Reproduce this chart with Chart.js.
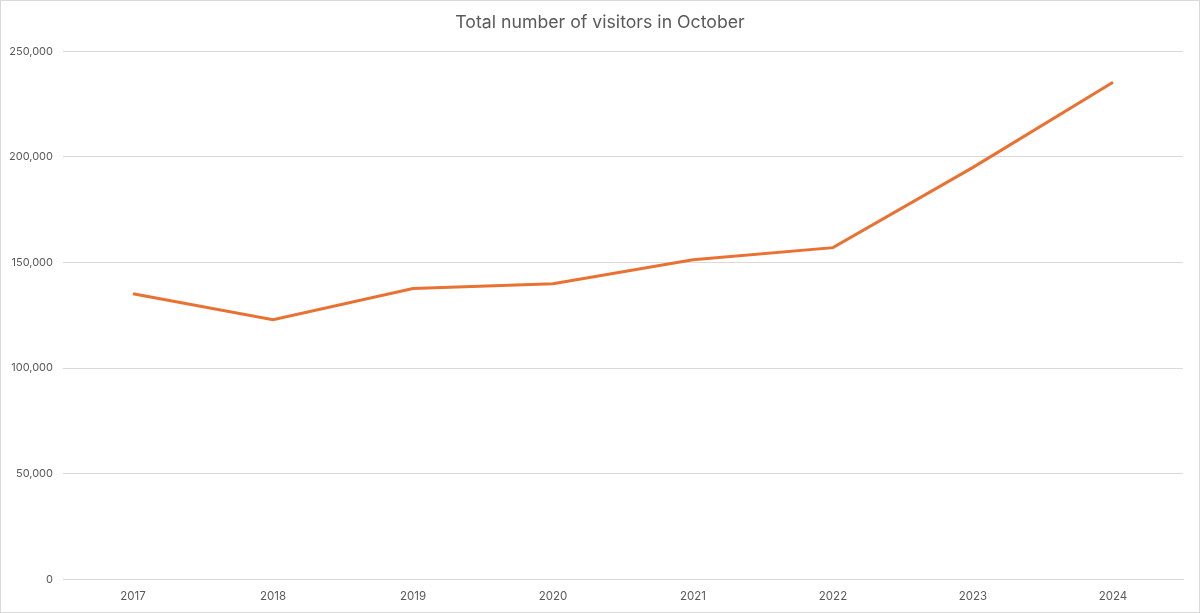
<!DOCTYPE html>
<html>
<head>
<meta charset="utf-8">
<script src="https://cdn.jsdelivr.net/npm/chart.js@4"></script>
<style>
html,body{margin:0;padding:0;background:#fff;}
#wrap{position:relative;width:1200px;height:613px;}
#frame{position:absolute;left:0;top:0;width:1198px;height:611px;border:1px solid #d9d9d9;pointer-events:none;}
canvas{display:block;}
</style>
</head>
<body>
<div id="wrap"><canvas id="c" width="1200" height="613"></canvas><div id="frame"></div></div>
<script>
const chartTitle = "Total number of visitors in October";
const years = ["2017","2018","2019","2020","2021","2022","2023","2024"];
const visitors = [135200, 122900, 137600, 139900, 151300, 157000, 195000, 235300];
const yTicks = [0, 50000, 100000, 150000, 200000, 250000];

const fontFamily = "Inter, 'Open Sans', sans-serif";
new Chart(document.getElementById('c'), {
  type: 'line',
  data: {
    labels: years,
    datasets: [{
      label: 'Visitors',
      data: visitors,
      borderColor: '#E97132',
      backgroundColor: '#E97132',
      borderWidth: 3,
      pointRadius: 0,
      tension: 0,
      fill: false
    }]
  },
  options: {
    responsive: false,
    animation: false,
    devicePixelRatio: 1,
    layout: { padding: { left: 0, right: 0, top: 0, bottom: 0 } },
    plugins: {
      legend: { display: false },
      tooltip: { enabled: false },
      title: {
        display: true,
        text: chartTitle,
        color: '#595959',
        font: { family: fontFamily, size: 17.7, weight: 'normal' },
        padding: { top: 12, bottom: 18 }
      }
    },
    scales: {
      x: {
        offset: true,
        grid: { display: false, drawTicks: false },
        border: { display: true, color: '#d9d9d9', width: 1 },
        ticks: { color: '#595959', font: { family: fontFamily, size: 11.5 }, padding: 10, maxRotation: 0 }
      },
      y: {
        min: 0,
        max: yTicks[yTicks.length - 1],
        afterBuildTicks: (s) => { s.ticks = yTicks.map(v => ({ value: v })); },
        grid: { color: '#d9d9d9', drawTicks: false },
        border: { display: false },
        ticks: {
          color: '#595959',
          font: { family: fontFamily, size: 11 },
          padding: 10,
          callback: (v) => Number(v).toLocaleString('en-US')
        },
        afterFit: (s) => { s.width = 63; }
      },
      yRightSpace: {
        position: 'right',
        min: 0,
        max: 1,
        grid: { display: false, drawTicks: false },
        border: { display: false },
        ticks: { display: false },
        afterFit: (s) => { s.width = 17; }
      }
    }
  }
});
</script>
</body>
</html>
